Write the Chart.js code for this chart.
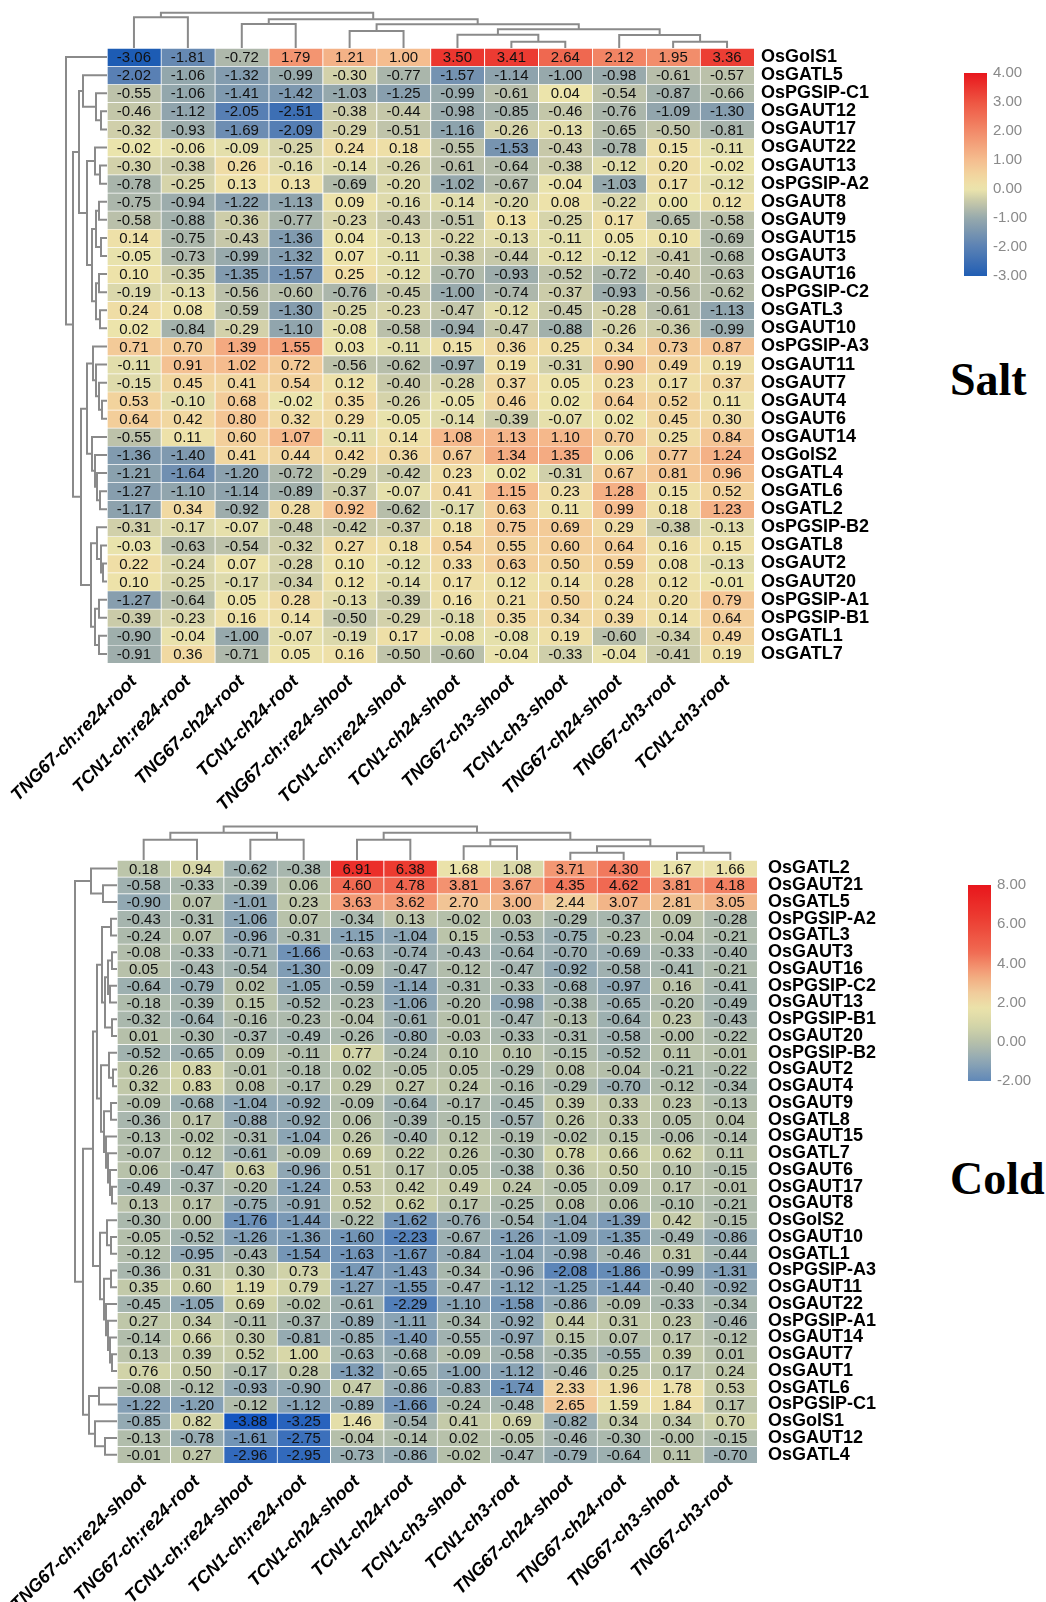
<!DOCTYPE html>
<html>
<head>
<meta charset="utf-8">
<script src="https://cdn.jsdelivr.net/npm/chart.js@4.4.1/dist/chart.umd.min.js"></script>
<style>
  body { margin: 0; background: #fff; }
  #wrap { position: relative; width: 1046px; height: 1602px; overflow: hidden; background: #fff; }
  canvas { position: absolute; }
  .title { position: absolute; font: bold 46px "Liberation Serif", "Times New Roman", serif; color: #000; line-height: 52px; }
</style>
</head>
<body>
<div id="wrap">
  <canvas id="saltHeat" width="940" height="775" style="left:0;top:48px"></canvas>
  <canvas id="saltColTree" width="647" height="38" style="left:107px;top:10px"></canvas>
  <canvas id="saltRowTree" width="45" height="615" style="left:62px;top:48px"></canvas>
  <canvas id="saltBar" width="83" height="223" style="left:964px;top:63px"></canvas>
  <div class="title" style="left:950px;top:354px">Salt</div>

  <canvas id="coldHeat" width="950" height="742" style="left:0;top:860px"></canvas>
  <canvas id="coldColTree" width="640" height="38" style="left:117px;top:822px"></canvas>
  <canvas id="coldRowTree" width="47" height="603" style="left:70px;top:860px"></canvas>
  <canvas id="coldBar" width="83" height="216" style="left:968px;top:875px"></canvas>
  <div class="title" style="left:950px;top:1153px">Cold</div>
</div>
<script>
// ---------- Salt panel data ----------
const saltCols = ['TNG67-ch:re24-root', 'TCN1-ch:re24-root', 'TNG67-ch24-root', 'TCN1-ch24-root',
  'TNG67-ch:re24-shoot', 'TCN1-ch:re24-shoot', 'TCN1-ch24-shoot', 'TNG67-ch3-shoot',
  'TCN1-ch3-shoot', 'TNG67-ch24-shoot', 'TNG67-ch3-root', 'TCN1-ch3-root'];
const saltRows = ['OsGolS1', 'OsGATL5', 'OsPGSIP-C1', 'OsGAUT12', 'OsGAUT17', 'OsGAUT22', 'OsGAUT13',
  'OsPGSIP-A2', 'OsGAUT8', 'OsGAUT9', 'OsGAUT15', 'OsGAUT3', 'OsGAUT16', 'OsPGSIP-C2', 'OsGATL3',
  'OsGAUT10', 'OsPGSIP-A3', 'OsGAUT11', 'OsGAUT7', 'OsGAUT4', 'OsGAUT6', 'OsGAUT14', 'OsGolS2',
  'OsGATL4', 'OsGATL6', 'OsGATL2', 'OsPGSIP-B2', 'OsGATL8', 'OsGAUT2', 'OsGAUT20', 'OsPGSIP-A1',
  'OsPGSIP-B1', 'OsGATL1', 'OsGATL7'];
const saltValues = [
  [-3.06, -1.81, -0.72, 1.79, 1.21, 1.00, 3.50, 3.41, 2.64, 2.12, 1.95, 3.36],
  [-2.02, -1.06, -1.32, -0.99, -0.30, -0.77, -1.57, -1.14, -1.00, -0.98, -0.61, -0.57],
  [-0.55, -1.06, -1.41, -1.42, -1.03, -1.25, -0.99, -0.61, 0.04, -0.54, -0.87, -0.66],
  [-0.46, -1.12, -2.05, -2.51, -0.38, -0.44, -0.98, -0.85, -0.46, -0.76, -1.09, -1.30],
  [-0.32, -0.93, -1.69, -2.09, -0.29, -0.51, -1.16, -0.26, -0.13, -0.65, -0.50, -0.81],
  [-0.02, -0.06, -0.09, -0.25, 0.24, 0.18, -0.55, -1.53, -0.43, -0.78, 0.15, -0.11],
  [-0.30, -0.38, 0.26, -0.16, -0.14, -0.26, -0.61, -0.64, -0.38, -0.12, 0.20, -0.02],
  [-0.78, -0.25, 0.13, 0.13, -0.69, -0.20, -1.02, -0.67, -0.04, -1.03, 0.17, -0.12],
  [-0.75, -0.94, -1.22, -1.13, 0.09, -0.16, -0.14, -0.20, 0.08, -0.22, 0.00, 0.12],
  [-0.58, -0.88, -0.36, -0.77, -0.23, -0.43, -0.51, 0.13, -0.25, 0.17, -0.65, -0.58],
  [0.14, -0.75, -0.43, -1.36, 0.04, -0.13, -0.22, -0.13, -0.11, 0.05, 0.10, -0.69],
  [-0.05, -0.73, -0.99, -1.32, 0.07, -0.11, -0.38, -0.44, -0.12, -0.12, -0.41, -0.68],
  [0.10, -0.35, -1.35, -1.57, 0.25, -0.12, -0.70, -0.93, -0.52, -0.72, -0.40, -0.63],
  [-0.19, -0.13, -0.56, -0.60, -0.76, -0.45, -1.00, -0.74, -0.37, -0.93, -0.56, -0.62],
  [0.24, 0.08, -0.59, -1.30, -0.25, -0.23, -0.47, -0.12, -0.45, -0.28, -0.61, -1.13],
  [0.02, -0.84, -0.29, -1.10, -0.08, -0.58, -0.94, -0.47, -0.88, -0.26, -0.36, -0.99],
  [0.71, 0.70, 1.39, 1.55, 0.03, -0.11, 0.15, 0.36, 0.25, 0.34, 0.73, 0.87],
  [-0.11, 0.91, 1.02, 0.72, -0.56, -0.62, -0.97, 0.19, -0.31, 0.90, 0.49, 0.19],
  [-0.15, 0.45, 0.41, 0.54, 0.12, -0.40, -0.28, 0.37, 0.05, 0.23, 0.17, 0.37],
  [0.53, -0.10, 0.68, -0.02, 0.35, -0.26, -0.05, 0.46, 0.02, 0.64, 0.52, 0.11],
  [0.64, 0.42, 0.80, 0.32, 0.29, -0.05, -0.14, -0.39, -0.07, 0.02, 0.45, 0.30],
  [-0.55, 0.11, 0.60, 1.07, -0.11, 0.14, 1.08, 1.13, 1.10, 0.70, 0.25, 0.84],
  [-1.36, -1.40, 0.41, 0.44, 0.42, 0.36, 0.67, 1.34, 1.35, 0.06, 0.77, 1.24],
  [-1.21, -1.64, -1.20, -0.72, -0.29, -0.42, 0.23, 0.02, -0.31, 0.67, 0.81, 0.96],
  [-1.27, -1.10, -1.14, -0.89, -0.37, -0.07, 0.41, 1.15, 0.23, 1.28, 0.15, 0.52],
  [-1.17, 0.34, -0.92, 0.28, 0.92, -0.62, -0.17, 0.63, 0.11, 0.99, 0.18, 1.23],
  [-0.31, -0.17, -0.07, -0.48, -0.42, -0.37, 0.18, 0.75, 0.69, 0.29, -0.38, -0.13],
  [-0.03, -0.63, -0.54, -0.32, 0.27, 0.18, 0.54, 0.55, 0.60, 0.64, 0.16, 0.15],
  [0.22, -0.24, 0.07, -0.28, 0.10, -0.12, 0.33, 0.63, 0.50, 0.59, 0.08, -0.13],
  [0.10, -0.25, -0.17, -0.34, 0.12, -0.14, 0.17, 0.12, 0.14, 0.28, 0.12, -0.01],
  [-1.27, -0.64, 0.05, 0.28, -0.13, -0.39, 0.16, 0.21, 0.50, 0.24, 0.20, 0.79],
  [-0.39, -0.23, 0.16, 0.14, -0.50, -0.29, -0.18, 0.35, 0.34, 0.39, 0.14, 0.64],
  [-0.90, -0.04, -1.00, -0.07, -0.19, 0.17, -0.08, -0.08, 0.19, -0.60, -0.34, 0.49],
  [-0.91, 0.36, -0.71, 0.05, 0.16, -0.50, -0.60, -0.04, -0.33, -0.04, -0.41, 0.19]
];
// trees: leaf index, or [left, right, merge height]
const saltColTree = [[0, 1, 30.7], [[2, 3, 24], [[4, 5, 17], [[6, [7, 8, 6.3], 13.3], [9, [10, 11, 6.3], 13], 18.7], 23.7], 28.7], 35.3];
const saltRowTree = [0, [
  [[1, [2, [3, 4, 6], 11], 24],
   [[5, [6, 7, 7], 12],
    [[[8, 9, 8], [10, 11, 6], 11], [[12, 13, 8], [14, 15, 7], 11], 15], 20], 28],
  [[[16, [17, [18, [19, 20, 5], 8], 11], 14], [21, [22, [23, [24, 25, 7], 10], 12], 15], 20],
   [[26, [27, [28, 29, 4], 6], 10], [[30, 31, 8], [32, 33, 8], 12], 16], 26],
  34], 41];
const saltTicks = [-3, 4, 1];
const saltStops = [[-3.06, '#1d5cb4'], [-2, '#5a81b4'], [-1, '#97a9ac'], [-0.4, '#c9caa9'], [0, '#ece5ac'],
  [0.5, '#f2d49e'], [1, '#f5bd8f'], [2, '#f28a69'], [3, '#ee5542'], [4, '#e8161c']];

// ---------- Cold panel data ----------
const coldCols = ['TNG67-ch:re24-shoot', 'TNG67-ch:re24-root', 'TCN1-ch:re24-shoot', 'TCN1-ch:re24-root',
  'TCN1-ch24-shoot', 'TCN1-ch24-root', 'TCN1-ch3-shoot', 'TCN1-ch3-root',
  'TNG67-ch24-shoot', 'TNG67-ch24-root', 'TNG67-ch3-shoot', 'TNG67-ch3-root'];
const coldRows = ['OsGATL2', 'OsGAUT21', 'OsGATL5', 'OsPGSIP-A2', 'OsGATL3', 'OsGAUT3', 'OsGAUT16',
  'OsPGSIP-C2', 'OsGAUT13', 'OsPGSIP-B1', 'OsGAUT20', 'OsPGSIP-B2', 'OsGAUT2', 'OsGAUT4', 'OsGAUT9',
  'OsGATL8', 'OsGAUT15', 'OsGATL7', 'OsGAUT6', 'OsGAUT17', 'OsGAUT8', 'OsGolS2', 'OsGAUT10', 'OsGATL1',
  'OsPGSIP-A3', 'OsGAUT11', 'OsGAUT22', 'OsPGSIP-A1', 'OsGAUT14', 'OsGAUT7', 'OsGAUT1', 'OsGATL6',
  'OsPGSIP-C1', 'OsGolS1', 'OsGAUT12', 'OsGATL4'];
const coldValues = [
  [0.18, 0.94, -0.62, -0.38, 6.91, 6.38, 1.68, 1.08, 3.71, 4.30, 1.67, 1.66],
  [-0.58, -0.33, -0.39, 0.06, 4.60, 4.78, 3.81, 3.67, 4.35, 4.62, 3.81, 4.18],
  [-0.90, 0.07, -1.01, 0.23, 3.63, 3.62, 2.70, 3.00, 2.44, 3.07, 2.81, 3.05],
  [-0.43, -0.31, -1.06, 0.07, -0.34, 0.13, -0.02, 0.03, -0.29, -0.37, 0.09, -0.28],
  [-0.24, 0.07, -0.96, -0.31, -1.15, -1.04, 0.15, -0.53, -0.75, -0.23, -0.04, -0.21],
  [-0.08, -0.33, -0.71, -1.66, -0.63, -0.74, -0.43, -0.64, -0.70, -0.69, -0.33, -0.40],
  [0.05, -0.43, -0.54, -1.30, -0.09, -0.47, -0.12, -0.47, -0.92, -0.58, -0.41, -0.21],
  [-0.64, -0.79, 0.02, -1.05, -0.59, -1.14, -0.31, -0.33, -0.68, -0.97, 0.16, -0.41],
  [-0.18, -0.39, 0.15, -0.52, -0.23, -1.06, -0.20, -0.98, -0.38, -0.65, -0.20, -0.49],
  [-0.32, -0.64, -0.16, -0.23, -0.04, -0.61, -0.01, -0.47, -0.13, -0.64, 0.23, -0.43],
  [0.01, -0.30, -0.37, -0.49, -0.26, -0.80, -0.03, -0.33, -0.31, -0.58, -0, -0.22],
  [-0.52, -0.65, 0.09, -0.11, 0.77, -0.24, 0.10, 0.10, -0.15, -0.52, 0.11, -0.01],
  [0.26, 0.83, -0.01, -0.18, 0.02, -0.05, 0.05, -0.29, 0.08, -0.04, -0.21, -0.22],
  [0.32, 0.83, 0.08, -0.17, 0.29, 0.27, 0.24, -0.16, -0.29, -0.70, -0.12, -0.34],
  [-0.09, -0.68, -1.04, -0.92, -0.09, -0.64, -0.17, -0.45, 0.39, 0.33, 0.23, -0.13],
  [-0.36, 0.17, -0.88, -0.92, 0.06, -0.39, -0.15, -0.57, 0.26, 0.33, 0.05, 0.04],
  [-0.13, -0.02, -0.31, -1.04, 0.26, -0.40, 0.12, -0.19, -0.02, 0.15, -0.06, -0.14],
  [-0.07, 0.12, -0.61, -0.09, 0.69, 0.22, 0.26, -0.30, 0.78, 0.66, 0.62, 0.11],
  [0.06, -0.47, 0.63, -0.96, 0.51, 0.17, 0.05, -0.38, 0.36, 0.50, 0.10, -0.15],
  [-0.49, -0.37, -0.20, -1.24, 0.53, 0.42, 0.49, 0.24, -0.05, 0.09, 0.17, -0.01],
  [0.13, 0.17, -0.75, -0.91, 0.52, 0.62, 0.17, -0.25, 0.08, 0.06, -0.10, -0.21],
  [-0.30, 0.00, -1.76, -1.44, -0.22, -1.62, -0.76, -0.54, -1.04, -1.39, 0.42, -0.15],
  [-0.05, -0.52, -1.26, -1.36, -1.60, -2.23, -0.67, -1.26, -1.09, -1.35, -0.49, -0.86],
  [-0.12, -0.95, -0.43, -1.54, -1.63, -1.67, -0.84, -1.04, -0.98, -0.46, 0.31, -0.44],
  [-0.36, 0.31, 0.30, 0.73, -1.47, -1.43, -0.34, -0.96, -2.08, -1.86, -0.99, -1.31],
  [0.35, 0.60, 1.19, 0.79, -1.27, -1.55, -0.47, -1.12, -1.25, -1.44, -0.40, -0.92],
  [-0.45, -1.05, 0.69, -0.02, -0.61, -2.29, -1.10, -1.58, -0.86, -0.09, -0.33, -0.34],
  [0.27, 0.34, -0.11, -0.37, -0.89, -1.11, -0.34, -0.92, 0.44, 0.31, 0.23, -0.46],
  [-0.14, 0.66, 0.30, -0.81, -0.85, -1.40, -0.55, -0.97, 0.15, 0.07, 0.17, -0.12],
  [0.13, 0.39, 0.52, 1.00, -0.63, -0.68, -0.09, -0.58, -0.35, -0.55, 0.39, 0.01],
  [0.76, 0.50, -0.17, 0.28, -1.32, -0.65, -1.00, -1.12, -0.46, 0.25, 0.17, 0.24],
  [-0.08, -0.12, -0.93, -0.90, 0.47, -0.86, -0.83, -1.74, 2.33, 1.96, 1.78, 0.53],
  [-1.22, -1.20, -0.12, -1.12, -0.89, -1.66, -0.24, -0.48, 2.65, 1.59, 1.84, 0.17],
  [-0.85, 0.82, -3.88, -3.25, 1.46, -0.54, 0.41, 0.69, -0.82, 0.34, 0.34, 0.70],
  [-0.13, -0.78, -1.61, -2.75, -0.04, -0.14, 0.02, -0.05, -0.46, -0.30, -0, -0.15],
  [-0.01, 0.27, -2.96, -2.95, -0.73, -0.86, -0.02, -0.47, -0.79, -0.64, 0.11, -0.70]
];
const coldColTree = [[[0, 1, 20.2], [2, 3, 20.2], 27.2],
  [[4, 5, 20.2], [[6, 7, 13.8], [[8, 9, 7.2], [10, 11, 7.2], 13.8], 20.2], 27.2], 33.5];
const coldRowTree = [
  [0, [1, 2, 14], 26],
  [
    [[[[3, 4, 6], [[[5, 6, 5], [7, 8, 7], 9], [9, 10, 5], 12], 15],
      [[11, [12, 13, 4], 8], [[14, 15, 6], [16, [17, [18, [19, 20, 5], 7], 9], 11], 13], 16], 20],
     [[21, [22, 23, 6], 10], [[24, 25, 6], [26, [27, [28, [29, 30, 5], 7], 9], 11], 13], 17], 24],
    [[31, 32, 18], [33, [34, 35, 12], 22], 28],
  34],
  42];
const coldTicks = [-2, 8, 2];
const coldStops = [[-3.88, '#1556c0'], [-3, '#3068bc'], [-2, '#6088b8'], [-1, '#8ea6b4'], [-0.4, '#a7b6ae'],
  [0, '#b6c0aa'], [0.8, '#d2d4a8'], [1.7, '#ebe2aa'], [2.5, '#f1cc9c'], [3.2, '#f2b084'], [3.8, '#f39370'],
  [4.6, '#f06a52'], [6.4, '#ec3a30'], [8, '#e8161c']];

// ---------- helpers ----------
function hexToRgb(h) {
  const n = parseInt(h.slice(1), 16);
  return [(n >> 16) & 255, (n >> 8) & 255, n & 255];
}
function colorFor(v, stops) {
  if (v <= stops[0][0]) return stops[0][1];
  for (let i = 1; i < stops.length; i++) {
    if (v <= stops[i][0]) {
      const t = (v - stops[i - 1][0]) / (stops[i][0] - stops[i - 1][0]);
      const a = hexToRgb(stops[i - 1][1]), b = hexToRgb(stops[i][1]);
      return `rgb(${a.map((x, k) => Math.round(x + (b[k] - x) * t)).join(',')})`;
    }
  }
  return stops[stops.length - 1][1];
}
function fmt(v) {
  return (v < 0 || Object.is(v, -0) ? '-' : '') + Math.abs(v).toFixed(2);
}

const cellText = {
  id: 'cellText',
  afterDatasetsDraw(chart, args, opts) {
    const { ctx, scales: { x, y } } = chart;
    ctx.save();
    ctx.font = opts.font;
    ctx.fillStyle = '#111';
    ctx.textAlign = 'center';
    ctx.textBaseline = 'middle';
    opts.values.forEach((row, r) => row.forEach((v, c) => {
      ctx.fillText(fmt(v), x.getPixelForValue(c), y.getPixelForValue(r) + 1);
    }));
    ctx.restore();
  }
};

function drawHeat(id, cols, rows, values, stops, o) {
  new Chart(document.getElementById(id), {
    type: 'bar',
    data: {
      labels: cols,
      datasets: values.map((row, r) => ({
        label: rows[r],
        data: row.map(() => [r - 0.5, r + 0.5]),
        backgroundColor: row.map(v => colorFor(v, stops)),
        borderColor: '#fff',
        borderWidth: { top: 1, left: 1, right: 0, bottom: 0 },
        borderSkipped: false,
        grouped: false,
        barPercentage: 1,
        categoryPercentage: 1
      }))
    },
    options: {
      responsive: false,
      animation: false,
      events: [],
      layout: { padding: { left: o.left, top: 0, right: 0, bottom: 0 } },
      plugins: {
        legend: { display: false },
        tooltip: { enabled: false },
        cellText: { values: values, font: o.cellFont }
      },
      scales: {
        x: {
          grid: { display: false, drawTicks: false },
          border: { display: false },
          ticks: {
            color: '#000', autoSkip: false, maxRotation: 45, minRotation: 45, padding: o.xPad,
            font: { family: 'Liberation Sans', size: 18, weight: 'bold', style: 'italic' }
          },
          afterFit: s => { s.height = o.xH; s.paddingLeft = 0; s.paddingRight = 0; }
        },
        y: {
          type: 'linear', position: 'right', reverse: true,
          min: -0.5, max: rows.length - 0.5,
          grid: { display: false, drawTicks: false },
          border: { display: false },
          afterBuildTicks: s => { s.ticks = rows.map((_, i) => ({ value: i })); },
          ticks: {
            autoSkip: false, color: '#000', padding: o.yPad,
            font: { family: 'Liberation Sans', size: 18, weight: 'bold' },
            callback: v => rows[v]
          },
          afterFit: s => { s.width = o.yW; s.paddingTop = 0; s.paddingBottom = 0; }
        }
      }
    },
    plugins: [cellText]
  });
}

function treeSegments(node, out) {
  if (typeof node === 'number') return { p: node, h: 0 };
  const a = treeSegments(node[0], out), b = treeSegments(node[1], out), h = node[2];
  out.push([[a.p, a.h], [a.p, h], [b.p, h], [b.p, b.h]]);
  return { p: (a.p + b.p) / 2, h: h };
}

function drawTree(id, tree, n, alongX, hMax) {
  const segs = [];
  treeSegments(tree, segs);
  const datasets = segs.map(s => ({
    data: s.map(([p, h]) => alongX ? { x: p, y: h } : { x: h, y: p }),
    showLine: true, borderColor: '#8a8a8a', borderWidth: 2, pointRadius: 0, clip: false
  }));
  const leafAxis = { type: 'linear', min: -0.5, max: n - 0.5, display: false };
  const hAxis = { type: 'linear', min: 0, max: hMax, display: false };
  new Chart(document.getElementById(id), {
    type: 'scatter',
    data: { datasets },
    options: {
      responsive: false, animation: false, events: [],
      layout: { padding: 0 },
      plugins: { legend: { display: false }, tooltip: { enabled: false } },
      scales: alongX
        ? { x: leafAxis, y: hAxis }
        : { x: Object.assign({}, hAxis, { reverse: true }), y: Object.assign({}, leafAxis, { reverse: true }) }
    }
  });
}

function drawColorBar(id, stops, ticks) {
  const [min, max, step] = ticks;
  new Chart(document.getElementById(id), {
    type: 'bar',
    data: {
      labels: [''],
      datasets: [{
        data: [[min, max]],
        barPercentage: 1, categoryPercentage: 1, borderWidth: 0,
        backgroundColor: c => {
          const chart = c.chart, y = chart.scales.y;
          if (!chart.chartArea || !y) return '#ccc';
          const g = chart.ctx.createLinearGradient(0, y.getPixelForValue(min), 0, y.getPixelForValue(max));
          for (let k = 0; k <= 40; k++) g.addColorStop(k / 40, colorFor(min + (max - min) * k / 40, stops));
          return g;
        }
      }]
    },
    options: {
      responsive: false, animation: false, events: [],
      layout: { padding: { top: 10, bottom: 10, left: 0, right: 0 } },
      plugins: { legend: { display: false }, tooltip: { enabled: false } },
      scales: {
        x: { display: false },
        y: {
          position: 'right', min: min, max: max,
          grid: { display: false, drawTicks: false },
          border: { display: false },
          ticks: {
            stepSize: step, color: '#8a8a8a', padding: 6,
            font: { family: 'Liberation Sans', size: 15 },
            callback: v => v.toFixed(2)
          },
          afterFit: s => { s.width = 60; s.paddingTop = 0; s.paddingBottom = 0; }
        }
      }
    }
  });
}

// ---------- draw ----------
drawHeat('saltHeat', saltCols, saltRows, saltValues, saltStops,
  { left: 107, yW: 186, xH: 160, xPad: 8, yPad: 7, cellFont: '15px "Liberation Sans", Arial, sans-serif' });
drawTree('saltColTree', saltColTree, saltCols.length, true, 38);
drawTree('saltRowTree', saltRowTree, saltRows.length, false, 45);
drawColorBar('saltBar', saltStops, saltTicks);

drawHeat('coldHeat', coldCols, coldRows, coldValues, coldStops,
  { left: 117, yW: 193, xH: 139, xPad: 8, yPad: 11, cellFont: '15px "Liberation Sans", Arial, sans-serif' });
drawTree('coldColTree', coldColTree, coldCols.length, true, 38);
drawTree('coldRowTree', coldRowTree, coldRows.length, false, 47);
drawColorBar('coldBar', coldStops, coldTicks);
</script>
</body>
</html>
